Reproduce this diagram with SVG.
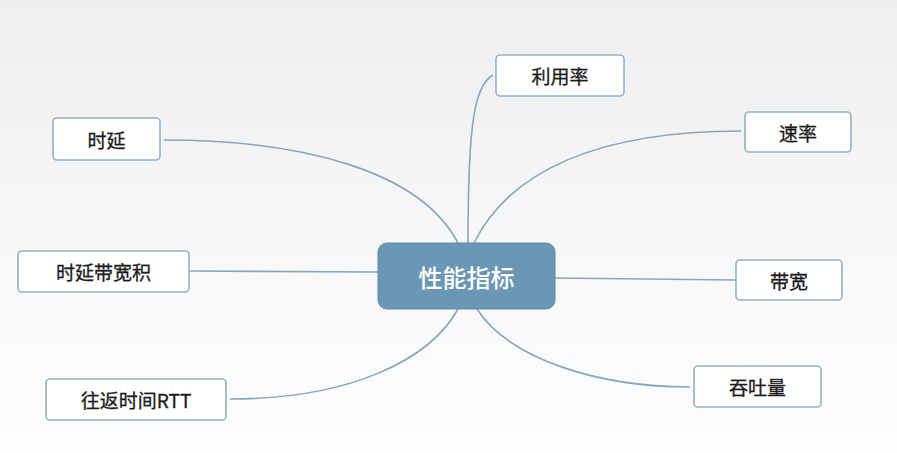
<svg xmlns="http://www.w3.org/2000/svg" width="897" height="453" viewBox="0 0 897 453">
<defs>
<linearGradient id="bg" x1="0" y1="0" x2="0" y2="1">
<stop offset="0" stop-color="#eeeeee"/>
<stop offset="0.5" stop-color="#f7f7f7"/>
<stop offset="1" stop-color="#fdfdfd"/>
</linearGradient>
<style>
.leaf rect{fill:#ffffff;stroke:#95b0c6;stroke-width:1.6}
.leaf text{font-family:"Noto Sans CJK SC","Noto Sans",sans-serif;font-size:19px;font-weight:400;fill:#1a1a1a;stroke:#1a1a1a;stroke-width:0.3;text-anchor:middle;dominant-baseline:central}
.center rect{fill:#6b97b5;stroke:#5f8aa8;stroke-width:1}
.center text{font-family:"Noto Sans CJK SC","Noto Sans",sans-serif;font-size:24px;font-weight:500;fill:#ffffff;text-anchor:middle;dominant-baseline:central}
#connectors path{fill:none;stroke:#86a7c0;stroke-width:1.6}
</style>
</defs>
<rect width="897" height="453" fill="url(#bg)"/>
<g id="connectors">
<path d="M164,140 C300,140 420,170 458,243"/>
<path d="M493,75 C475,85 468,120 468,243"/>
<path d="M741,131 C600,131 510,170 474,243"/>
<path d="M190,271 L378,272"/>
<path d="M555,278 L736,280"/>
<path d="M230,399 C350,399 430,360 458,309"/>
<path d="M690,387 C600,387 510,360 477,309"/>
</g>
<g id="center" class="center">
<rect x="378" y="243" width="177" height="66" rx="9"/>
<text x="466.5" y="276">性能指标</text>
</g>
<g id="n-liyonglv" class="leaf">
<rect x="496" y="55" width="128" height="41" rx="4"/>
<text x="560" y="75.5">利用率</text>
</g>
<g id="n-shiyan" class="leaf">
<rect x="53" y="118" width="107" height="42" rx="4"/>
<text x="106.5" y="139">时延</text>
</g>
<g id="n-sulv" class="leaf">
<rect x="745" y="112" width="106" height="40" rx="4"/>
<text x="798" y="132">速率</text>
</g>
<g id="n-bdp" class="leaf">
<rect x="18" y="251" width="171" height="41" rx="4"/>
<text x="103.5" y="271.5">时延带宽积</text>
</g>
<g id="n-daikuan" class="leaf">
<rect x="736" y="260" width="106" height="40" rx="4"/>
<text x="789" y="280">带宽</text>
</g>
<g id="n-rtt" class="leaf">
<rect x="46" y="379" width="180" height="41" rx="4"/>
<text x="136" y="399.5">往返时间RTT</text>
</g>
<g id="n-tuntu" class="leaf">
<rect x="694" y="366" width="127" height="41" rx="4"/>
<text x="757.5" y="386.5">吞吐量</text>
</g>
</svg>
